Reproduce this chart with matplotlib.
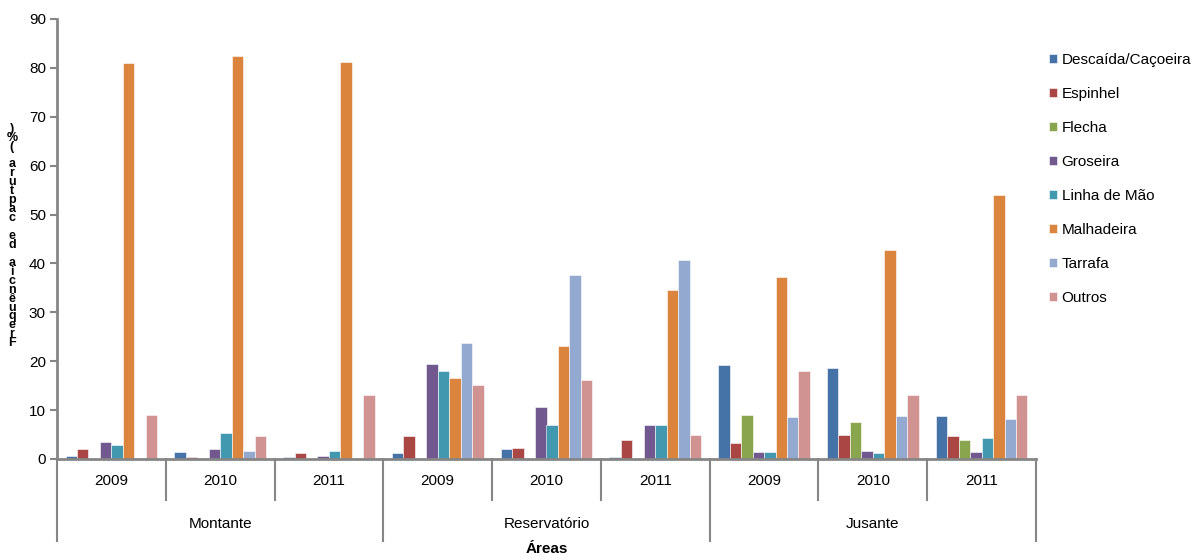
import matplotlib
matplotlib.use('Agg')
import matplotlib.pyplot as plt
import matplotlib.transforms as mtransforms
import numpy as np

plt.rcParams['font.family'] = ['Liberation Sans', 'DejaVu Sans']

# categorias: áreas x anos
areas = ['Montante', 'Reservatório', 'Jusante']
anos = ['2009', '2010', '2011']

aparelhos = ['Descaída/Caçoeira', 'Espinhel', 'Flecha', 'Groseira',
             'Linha de Mão', 'Malhadeira', 'Tarrafa', 'Outros']
cores = ['#4572A7', '#AA4643', '#89A54E', '#71588F',
         '#4198AF', '#DB843D', '#93A9CF', '#D19392']

# frequência de captura (%) por aparelho, na ordem M09..M11, R09..R11, J09..J11
descaida = [0.6, 1.5, 0.5, 1.3, 2.0, 0.5, 19.3, 18.6, 8.8]
espinhel = [2.1, 0.5, 1.3, 4.8, 2.2, 3.9, 3.3, 5.0, 4.7]
flecha = [0, 0, 0, 0, 0, 0, 9.1, 7.6, 3.9]
groseira = [3.4, 2.1, 0.6, 19.4, 10.6, 7.0, 1.4, 1.7, 1.4]
linha_mao = [2.9, 5.4, 1.7, 17.9, 7.0, 7.0, 1.4, 1.2, 4.3]
malhadeira = [81.0, 82.5, 81.2, 16.5, 23.1, 34.5, 37.3, 42.8, 53.9]
tarrafa = [0, 1.7, 0.3, 23.7, 37.6, 40.8, 8.6, 8.8, 8.2]
outros = [8.9, 4.8, 13.1, 15.1, 16.1, 5.0, 17.9, 13.0, 13.1]

series = [descaida, espinhel, flecha, groseira, linha_mao, malhadeira, tarrafa, outros]

fig = plt.figure(figsize=(11.96, 5.6), dpi=100)
ax = fig.add_axes([57 / 1196, 1 - 459 / 560, (1036 - 57) / 1196, 440 / 560])

n_grupos = len(areas) * len(anos)
x = np.arange(n_grupos)
w = 1 / 9.5
for j, (vals, cor, nome) in enumerate(zip(series, cores, aparelhos)):
    ax.bar(x + (j - 3.5) * w, vals, width=w, color=cor, label=nome,
           edgecolor='white', linewidth=0.4, zorder=2)

ax.set_xlim(-0.5, n_grupos - 0.5)
ax.set_ylim(0, 90)
ax.set_yticks(range(0, 91, 10))
ax.tick_params(axis='y', labelsize=11, length=5, width=1.5, color='#868686', pad=3)
ax.set_xticks([])
for s in ['top', 'right']:
    ax.spines[s].set_visible(False)
for s in ['left', 'bottom']:
    ax.spines[s].set_color('#868686')
    ax.spines[s].set_linewidth(2)

# eixo de categorias em dois níveis
trans = mtransforms.blended_transform_factory(ax.transData, ax.transAxes)
for b in np.arange(n_grupos + 1) - 0.5:
    fim = -0.186 if (b + 0.5) % 3 == 0 else -0.093
    ax.plot([b, b], [0, fim], color='#868686', lw=1.5, transform=trans, clip_on=False)
for i in range(n_grupos):
    ax.text(i, -0.05, anos[i % 3], transform=trans, ha='center', va='center', fontsize=11)
for k, area in enumerate(areas):
    ax.text(3 * k + 1, -0.148, area, transform=trans, ha='center', va='center', fontsize=11)
ax.text(4, -0.205, 'Áreas', transform=trans, ha='center', va='center',
        fontsize=11, fontweight='bold')

# rótulo do eixo y empilhado letra a letra, lido de baixo para cima
rotulo = 'Frequência de captura (%)'
fig.text(12 / 1196, 1 - 236 / 560, '\n'.join(rotulo[::-1]), ha='center', va='center',
         fontsize=9, fontweight='bold', linespacing=0.66)

fig.legend(loc='upper left', bbox_to_anchor=(1035 / 1196, 1 - 39 / 560),
           frameon=False, fontsize=11, handlelength=0.52, handleheight=0.52,
           handletextpad=0.33, labelspacing=1.31)

fig.savefig('out.png', dpi=100)
